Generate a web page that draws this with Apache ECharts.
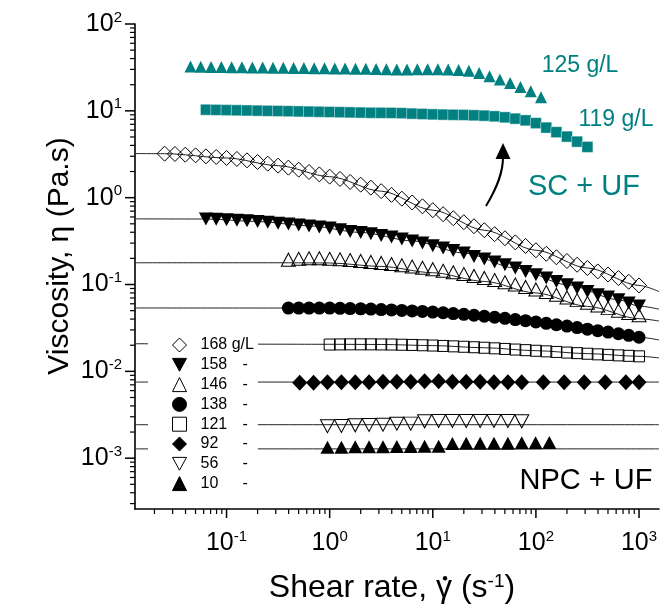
<!DOCTYPE html>
<html><head><meta charset="utf-8">
<script src="https://cdn.jsdelivr.net/npm/echarts@6/dist/echarts.min.js"></script>
<style>html,body{margin:0;padding:0;background:#fff}#c{width:662px;height:610px}</style>
</head><body><div id="c"></div>
<script>
// ---- shear-rate grids (s^-1) ----
const shearRate = [0.0251,0.0316,0.0398,0.0501,0.0631,0.0794,0.1,0.126,0.158,0.2,0.251,0.316,0.398,0.501,0.631,0.794,1,1.26,1.58,2,2.51,3.16,3.98,5.01,6.31,7.94,10,12.6,15.8,20,25.1,31.6,39.8,50.1,63.1,79.4,100,126,158,200,251,316,398,501,631,794,1000];
const shearRate125 = [0.0447,0.0562,0.0708,0.0891,0.112,0.141,0.178,0.224,0.282,0.355,0.447,0.562,0.708,0.891,1.12,1.41,1.78,2.24,2.82,3.55,4.47,5.62,7.08,8.91,11.2,14.1,17.8,22.4,28.2,35.5,44.7,56.2,70.8,89.1,112];
const shearRate119 = [0.0631,0.0794,0.1,0.126,0.158,0.2,0.251,0.316,0.398,0.501,0.631,0.794,1,1.26,1.58,2,2.51,3.16,3.98,5.01,6.31,7.94,10,12.6,15.8,20,25.1,31.6,39.8,50.1,63.1,79.4,100,126,158,200,251,316];
const shearRate168 = shearRate;
const shearRate158 = [0.0631,0.0794,0.1,0.126,0.158,0.2,0.251,0.316,0.398,0.501,0.631,0.794,1,1.26,1.58,2,2.51,3.16,3.98,5.01,6.31,7.94,10,12.6,15.8,20,25.1,31.6,39.8,50.1,63.1,79.4,100,126,158,200,251,316,398,501,631,794,1000];
const shearRate146 = [0.398,0.501,0.631,0.794,1,1.26,1.58,2,2.51,3.16,3.98,5.01,6.31,7.94,10,12.6,15.8,20,25.1,31.6,39.8,50.1,63.1,79.4,100,126,158,200,251,316,398,501,631,794,1000];
const shearRate138 = shearRate146;
const shearRate121 = [1,1.26,1.58,2,2.51,3.16,3.98,5.01,6.31,7.94,10,12.6,15.8,20,25.1,31.6,39.8,50.1,63.1,79.4,100,126,158,200,251,316,398,501,631,794,1000];
const shearRate92 = [0.512,0.698,0.952,1.30,1.77,2.41,3.29,4.48,6.11,8.33,11.4,15.5,21.1,28.8,39.2,53.5,72.9,118,188,294,470,745,1000];
const shearRate56 = [0.952,1.30,1.77,2.41,3.29,4.48,6.11,8.33,11.4,15.5,21.1,28.8,39.2,53.5,72.9];
const shearRate10 = [0.952,1.30,1.77,2.41,3.29,4.48,6.11,8.33,11.4,15.5,21.1,28.8,39.2,53.5,72.9,99.3,135];

// ---- viscosities (Pa.s) ----
const eta125 = [32.3,32.2,32.0,31.9,31.8,31.7,31.6,31.5,31.4,31.3,31.2,31.1,31.0,30.9,30.8,30.7,30.6,30.5,30.3,30.2,30.0,30.0,30.1,30.2,30.2,30.0,29.6,29.0,27.3,25.0,22.9,20.9,18.8,16.8,14.3];
const eta119 = [10.3,10.25,10.2,10.15,10.1,10.05,10.0,9.95,9.9,9.85,9.8,9.75,9.7,9.65,9.6,9.55,9.5,9.48,9.46,9.4,9.29,9.2,9.11,9.05,9.0,8.97,8.88,8.80,8.64,8.42,8.13,7.77,7.22,6.41,5.68,5.05,4.42,3.84];
const eta168 = [3.213,3.188,3.129,3.072,2.991,2.943,2.867,2.792,2.690,2.578,2.465,2.337,2.216,2.102,1.977,1.855,1.746,1.642,1.517,1.412,1.304,1.188,1.077,0.974,0.880,0.796,0.718,0.645,0.580,0.522,0.469,0.422,0.380,0.341,0.306,0.278,0.248,0.226,0.206,0.1865,0.169,0.155,0.1415,0.1303,0.1188,0.1077,0.0976];
const eta158 = [0.568,0.564,0.558,0.551,0.542,0.532,0.521,0.508,0.4964,0.4848,0.4733,0.4609,0.4476,0.428,0.409,0.398,0.385,0.368,0.3526,0.334,0.318,0.300,0.280,0.2633,0.2471,0.2306,0.2108,0.1967,0.1816,0.169,0.155,0.1415,0.1297,0.1188,0.1086,0.0995,0.0911,0.0833,0.0763,0.0718,0.0668,0.0612,0.0565];
const eta146 = [0.1931,0.1982,0.2009,0.2009,0.1982,0.1956,0.1915,0.1870,0.1821,0.1773,0.1722,0.1668,0.1612,0.1557,0.1501,0.1442,0.1382,0.1321,0.1256,0.1191,0.1126,0.1063,0.1000,0.0938,0.0878,0.0820,0.0763,0.0710,0.0661,0.0615,0.0573,0.0535,0.0500,0.0469,0.0443];
const eta138 = [0.0536,0.0536,0.0536,0.0536,0.0535,0.0532,0.0529,0.0525,0.0521,0.0515,0.0510,0.0503,0.0497,0.0490,0.0482,0.0473,0.0463,0.0454,0.0443,0.0431,0.0420,0.0408,0.0395,0.0383,0.0370,0.0357,0.0344,0.0332,0.0319,0.0306,0.0294,0.0283,0.0271,0.0260,0.0247];
const eta121 = [0.02036,0.02042,0.02047,0.02047,0.02047,0.02042,0.02036,0.02025,0.02014,0.01998,0.01983,0.01962,0.01941,0.01920,0.01895,0.01870,0.01841,0.01812,0.01783,0.01755,0.01727,0.01700,0.01673,0.01646,0.01621,0.01595,0.01570,0.01549,0.01528,0.01509,0.01489];
const eta92 = [0.0074,0.0074,0.0075,0.0075,0.0075,0.0075,0.0076,0.0076,0.0076,0.0077,0.0077,0.0076,0.0076,0.0076,0.0075,0.0075,0.0075,0.0075,0.0075,0.0075,0.0075,0.0075,0.0075];
const eta56 = [0.00233,0.00235,0.00239,0.00241,0.00243,0.00249,0.00250,0.00266,0.00268,0.00268,0.00268,0.00268,0.00268,0.00268,0.00266];
const eta10 = [0.001335,0.00134,0.001353,0.001353,0.001353,0.00136,0.00136,0.001371,0.001371,0.001477,0.001485,0.001485,0.001485,0.001485,0.001505,0.001505,0.001517];

// ---- fitted curves [shear rate, viscosity] ----
const fit168 = [[0.01295,3.22],[0.0251,3.213],[0.1,2.867],[0.316,2.337],[1,1.746],[3.16,1.188],[10,0.718],[31.6,0.422],[100,0.248],[316,0.155],[1000,0.0976],[1562,0.083]];
const fit158 = [[0.01295,0.570],[0.0631,0.568],[0.2,0.532],[0.631,0.4733],[2,0.398],[6.31,0.318],[20,0.2306],[63.1,0.155],[200,0.0995],[631,0.0668],[1000,0.0565],[1562,0.052]];
const fit146 = [[0.01295,0.178],[0.398,0.178],[1,0.177],[3.16,0.1615],[10,0.1367],[31.6,0.1085],[100,0.080],[316,0.056],[1000,0.0404],[1562,0.038]];
const fit138 = [[0.01295,0.0537],[0.398,0.0536],[1,0.0535],[3.16,0.0515],[10,0.0482],[31.6,0.0431],[100,0.0370],[316,0.0306],[1000,0.0247],[1562,0.0230]];
const fit121 = [[0.01295,0.0208],[1,0.0205],[3.16,0.0204],[10,0.0198],[31.6,0.0187],[100,0.0173],[316,0.0160],[1000,0.0149],[1562,0.0143]];
const fit92 = [[0.01295,0.00753],[1562,0.00753]];
const fit56 = [[0.01295,0.00243],[1562,0.00243]];
const fit10 = [[0.01295,0.00128],[1562,0.00128]];

// ---- axes / ticks ----
const X_MIN = 0.01295, X_MAX = 1562, Y_MIN = 2.6e-4, Y_MAX = 100;
const majorTicksX = [0.1,1,10,100,1000];
const minorTicksX = [0.02,0.03,0.04,0.05,0.06,0.07,0.08,0.09,0.2,0.3,0.4,0.5,0.6,0.7,0.8,0.9,2,3,4,5,6,7,8,9,20,30,40,50,60,70,80,90,200,300,400,500,600,700,800,900];
const majorTicksY = [0.001,0.01,0.1,1,10,100];
const minorTicksY = [0.0003,0.0004,0.0005,0.0006,0.0007,0.0008,0.0009,0.002,0.003,0.004,0.005,0.006,0.007,0.008,0.009,0.02,0.03,0.04,0.05,0.06,0.07,0.08,0.09,0.2,0.3,0.4,0.5,0.6,0.7,0.8,0.9,2,3,4,5,6,7,8,9,20,30,40,50,60,70,80,90];
const legendNames = ['168 g/L','158','146','138','121','92','56','10'];

const FONT = '"Liberation Sans", Arial, sans-serif';
const TEAL = '#008080';
const HOLLOW = 'rgba(0,0,0,0)';
const INV_TRI = 'path://M0,0L12,0L6,11Z';
const legendIcons = ['diamond', INV_TRI, 'triangle', 'circle', 'rect', 'diamond', INV_TRI, 'triangle'];
function pairs(xs, ys){ return xs.map((x,i)=>[x, ys[i]]); }

function powLabel(v){
  const l = Math.log10(v); const e = Math.round(l);
  if (Math.abs(l - e) > 1e-6) return '';
  return '{b|10}{s|' + e + '}';
}
const labelRich = {
  b: {fontSize: 25, fontFamily: FONT, color: '#000', lineHeight: 28},
  s: {fontSize: 15, fontFamily: FONT, color: '#000', verticalAlign: 'top', lineHeight: 16}
};

function tickSeries(values, dim, len, width){
  return {
    type: 'custom', silent: true, clip: false, z: 6,
    data: values.map(v => dim === 'x' ? [v, Y_MIN] : [X_MIN, v]),
    renderItem: (params, api) => {
      const p = api.coord([api.value(0), api.value(1)]);
      const shape = dim === 'x'
        ? {x1: p[0], y1: p[1], x2: p[0], y2: p[1] + len}
        : {x1: p[0] - len, y1: p[1], x2: p[0], y2: p[1]};
      return {type: 'line', shape, style: {stroke: '#000', lineWidth: width}};
    }
  };
}
function fitSeries(data){
  return {type: 'line', data, symbol: 'none', showSymbol: false, smooth: 0.3, smoothMonotone: 'x',
    silent: true, z: 2, lineStyle: {color: '#222', width: 1}};
}
function scatter(name, xs, ys, symbol, size, fill, border, bw){
  return {type: 'scatter', name, data: pairs(xs, ys), symbol, symbolSize: size,
    silent: true, z: 3,
    itemStyle: {color: fill, borderColor: border || fill, borderWidth: border ? (bw || 1) : 0, opacity: 1}};
}

// measure the x-title so the dot of gamma-dot can sit over the gamma
const T_SIZE = 32, T_SUP = 19, T_CENTER = 392, T_MID = 588;
const mctx = document.createElement('canvas').getContext('2d');
mctx.font = T_SIZE + 'px "Liberation Sans"';
const wA = mctx.measureText('Shear rate, ').width, wG = mctx.measureText('γ').width;
const wB = mctx.measureText(' (s').width, wP = mctx.measureText(')').width;
mctx.font = T_SUP + 'px "Liberation Sans"';
const wS = mctx.measureText('-1').width;
const tLeft = T_CENTER - (wA + wG + wB + wS + wP) / 2;
const dotX = tLeft + wA + wG / 2 + 1, dotY = T_MID + 0.35 * T_SIZE - 0.53 * T_SIZE - 4;

const chart = echarts.init(document.getElementById('c'), null, {renderer: 'canvas'});
chart.setOption({
  animation: false,
  backgroundColor: '#fff',
  grid: {left: 135, top: 24, width: 525, height: 485, containLabel: false},
  xAxis: {
    type: 'log', logBase: 10, min: X_MIN, max: X_MAX,
    axisLine: {show: true, onZero: false, lineStyle: {color: '#000', width: 1.6}},
    axisTick: {show: false}, minorTick: {show: false}, splitLine: {show: false},
    axisLabel: {formatter: powLabel, rich: labelRich, margin: 20, color: '#000'}
  },
  yAxis: {
    type: 'log', logBase: 10, min: Y_MIN, max: Y_MAX,
    axisLine: {show: true, onZero: false, lineStyle: {color: '#000', width: 1.6}},
    axisTick: {show: false}, minorTick: {show: false}, splitLine: {show: false},
    axisLabel: {formatter: powLabel, rich: labelRich, margin: 13, color: '#000'}
  },
  legend: {
    data: legendNames.map((n, i) => ({name: n, icon: legendIcons[i]})),
    orient: 'vertical', left: 148, top: 327,
    itemWidth: 14, itemHeight: 14, itemGap: 3.8,
    padding: [10, 4, 10, 24], backgroundColor: '#fff', selectedMode: false,
    itemStyle: {borderWidth: 1},
    formatter: n => n === '168 g/L' ? '{t|168 g/L}' : '{n|' + n + '}{d|-}',
    textStyle: {color: '#000', fontSize: 16, fontFamily: FONT,
      rich: {t: {fontSize: 16, fontFamily: FONT, color: '#000', padding: [0, 0, 0, 9]},
             n: {fontSize: 16, fontFamily: FONT, color: '#000', width: 42, padding: [0, 0, 0, 9]},
             d: {fontSize: 16, fontFamily: FONT, color: '#000', width: 24}}}
  },
  series: [
    fitSeries(fit168), fitSeries(fit158), fitSeries(fit146), fitSeries(fit138),
    fitSeries(fit121), fitSeries(fit92), fitSeries(fit56), fitSeries(fit10),
    scatter('125 g/L', shearRate125, eta125, 'triangle', [12, 12], TEAL),
    scatter('119 g/L', shearRate119, eta119, 'rect', [11, 11], TEAL, 'rgba(255,255,255,0.55)', 0.8),
    scatter('168 g/L', shearRate168, eta168, 'diamond', [15, 15], HOLLOW, '#000'),
    scatter('158', shearRate158, eta158, INV_TRI, [14, 13], '#000'),
    scatter('146', shearRate146, eta146, 'triangle', [14, 13], HOLLOW, '#000'),
    scatter('138', shearRate138, eta138, 'circle', 13, '#000'),
    scatter('121', shearRate121, eta121, 'rect', [11, 11], HOLLOW, '#000'),
    scatter('92', shearRate92, eta92, 'diamond', [15, 16], '#000'),
    scatter('56', shearRate56, eta56, INV_TRI, [14, 13], HOLLOW, '#000'),
    scatter('10', shearRate10, eta10, 'triangle', [14, 13], '#000'),
    tickSeries(majorTicksX, 'x', 9, 1.5), tickSeries(minorTicksX, 'x', 5, 1.2),
    tickSeries(majorTicksY, 'y', 10, 1.5), tickSeries(minorTicksY, 'y', 5, 1.2)
  ],
  graphic: [
    {type: 'text', x: 580, y: 66, style: {text: '125 g/L', fill: TEAL, font: '23px ' + FONT, align: 'center', verticalAlign: 'middle'}},
    {type: 'text', x: 616, y: 120, style: {text: '119 g/L', fill: TEAL, font: '23px ' + FONT, align: 'center', verticalAlign: 'middle'}},
    {type: 'text', x: 584, y: 187, style: {text: 'SC + UF', fill: TEAL, font: '29px ' + FONT, align: 'center', verticalAlign: 'middle'}},
    {type: 'text', x: 586, y: 481, style: {text: 'NPC + UF', fill: '#000', font: '29px ' + FONT, align: 'center', verticalAlign: 'middle'}},
    {type: 'bezierCurve', shape: {x1: 486, y1: 206, cpx1: 498, cpy1: 186, cpx2: 503, cpy2: 172, x2: 503, y2: 157}, style: {stroke: '#000', lineWidth: 2, fill: null}},
    {type: 'polygon', shape: {points: [[503, 143], [495.5, 159], [510.5, 159]]}, style: {fill: '#000'}},
    {type: 'text', x: 60, y: 256, rotation: Math.PI / 2,
      style: {text: 'Viscosity, η (Pa.s)', fill: '#000', font: '30px ' + FONT, align: 'center', verticalAlign: 'middle'}},
    {type: 'text', x: tLeft, y: T_MID,
      style: {text: 'Shear rate, γ (s{sup|-1})', fill: '#000', fontSize: T_SIZE, fontFamily: FONT, align: 'left', verticalAlign: 'middle',
        rich: {sup: {fontSize: T_SUP, fontFamily: FONT, fill: '#000', verticalAlign: 'top', lineHeight: 20}}}},
    {type: 'circle', shape: {cx: dotX, cy: dotY, r: 2.2}, style: {fill: '#000'}}
  ]
});
</script></body></html>
